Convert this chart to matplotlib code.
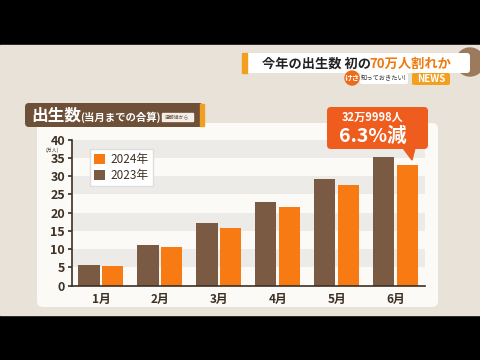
import numpy as np
import matplotlib.pyplot as plt
from matplotlib.patches import FancyBboxPatch, Polygon, Circle, Rectangle

plt.rcParams['font.family'] = ['Noto Sans CJK JP', 'DejaVu Sans']

months = ["1月", "2月", "3月", "4月", "5月", "6月"]
births_2023 = [5.7, 11.2, 17.1, 22.9, 29.2, 35.2]
births_2024 = [5.4, 10.5, 15.9, 21.5, 27.5, 33.0]
yticks = [0, 5, 10, 15, 20, 25, 30, 35, 40]

c2023 = "#7a5a42"
c2024 = "#f77a12"
txt_dark = "#3d3024"

fig = plt.figure(figsize=(4.8, 3.6), dpi=100)
fig.patch.set_facecolor("black")


def pixel_axes(z):
    a = fig.add_axes([0, 0, 1, 1])
    a.set_xlim(0, 480)
    a.set_ylim(360, 0)
    a.axis("off")
    a.set_zorder(z)
    a.patch.set_alpha(0)
    return a


# --- background / decorations in pixel coordinates ---
bg = pixel_axes(0)
bg.add_patch(Rectangle((0, 45), 480, 270, color="#e8e2d9", zorder=0))
bg.add_patch(Circle((470, 62), 14, color="#9c7a5c", zorder=1))

# white panel
bg.add_patch(FancyBboxPatch((37, 123), 401, 184, boxstyle="round,pad=0,rounding_size=6",
                            fc="#fbfaf7", ec="none", zorder=1))

# title badge
bg.add_patch(FancyBboxPatch((25, 103), 178, 24, boxstyle="round,pad=0,rounding_size=4",
                            fc="#6e4f38", ec="none", zorder=2))
bg.add_patch(Rectangle((200, 104), 4, 22, color="#f0a020", zorder=2))
bg.text(31, 116, "出生数", color="white", fontsize=12, fontweight="bold", va="center", zorder=3)
bg.text(80, 117, "(当月までの合算)", color="white", fontsize=7.5, fontweight="bold", va="center", zorder=3)
bg.add_patch(Rectangle((162, 113), 31, 8, color="#f3efe8", zorder=3))
bg.text(177.5, 117, "速報値から", color="#6e4f38", fontsize=3.5, ha="center", va="center", zorder=4)

# headline
bg.add_patch(FancyBboxPatch((242, 53), 228, 20, boxstyle="round,pad=0,rounding_size=3",
                            fc="white", ec="none", zorder=2))
bg.add_patch(Rectangle((242, 53), 5, 20, color="#f0a020", zorder=3))
bg.text(262, 63.5, "今年の出生数 初の", color="#222222", fontsize=9.5, fontweight="bold",
        va="center", zorder=3)
bg.text(369, 63.5, "70万人割れか", color="#ee7a10", fontsize=9.5, fontweight="bold",
        va="center", zorder=3)
bg.add_patch(Circle((352, 78), 7, color="#ee6a18", zorder=3))
bg.text(352, 78, "けさ", color="white", fontsize=5.5, fontweight="bold", ha="center", va="center", zorder=4)
bg.add_patch(FancyBboxPatch((360, 73), 48, 11, boxstyle="round,pad=0,rounding_size=2",
                            fc="white", ec="none", zorder=2))
bg.text(384, 78.5, "知っておきたい!", color="#333333", fontsize=4.5, ha="center", va="center", zorder=3)
bg.add_patch(FancyBboxPatch((412, 73), 38, 12, boxstyle="round,pad=0,rounding_size=2",
                            fc="#f3a020", ec="none", zorder=2))
bg.text(431, 79, "NEWS", color="white", fontsize=7, fontweight="bold", ha="center", va="center", zorder=3)

# --- main chart ---
ax = fig.add_axes([72 / 480, (360 - 285.7) / 360, 353 / 480, 146 / 360])
ax.set_zorder(2)
ax.patch.set_alpha(0)
x = np.arange(len(months))
w = 0.36
for lo in range(0, 40, 5):
    ax.axhspan(lo, lo + 5, color="#ecebe7" if (lo // 5) % 2 else "#fbfaf7", zorder=0, lw=0)
ax.bar(x - 0.2, births_2023, w, color=c2023, label="2023年", zorder=2)
ax.bar(x + 0.2, births_2024, w, color=c2024, label="2024年", zorder=2)

ax.set_xlim(-0.49, 5.5)
ax.set_ylim(0, 40)
ax.set_yticks(yticks)
ax.set_yticklabels([str(v) for v in yticks], fontsize=9, fontweight="bold", color=txt_dark)
ax.set_xticks(x)
ax.set_xticklabels(months, fontsize=8.5, fontweight="bold", color=txt_dark)
ax.tick_params(axis="y", length=3, width=1.2, color=txt_dark, pad=2)
ax.tick_params(axis="x", length=0, pad=5)
for s in ["top", "right"]:
    ax.spines[s].set_visible(False)
for s in ["left", "bottom"]:
    ax.spines[s].set_color(txt_dark)
    ax.spines[s].set_linewidth(1.2)
ax.text(-0.057, 0.927, "(万人)", transform=ax.transAxes, fontsize=3.5, color=txt_dark,
        ha="center", va="center")

h, l = ax.get_legend_handles_labels()
leg = ax.legend(h[::-1], l[::-1], loc="upper left", bbox_to_anchor=(0.035, 0.975),
                fontsize=8.5, frameon=True, fancybox=False, handlelength=0.9, handleheight=0.9,
                handletextpad=0.5, borderpad=0.35, labelspacing=0.25)
leg.get_frame().set_edgecolor("#dddddd")
leg.get_frame().set_facecolor("white")
leg.get_frame().set_alpha(1)
for t in leg.get_texts():
    t.set_color(txt_dark)

# --- callout on top ---
top = pixel_axes(5)
top.add_patch(FancyBboxPatch((327, 107), 101, 42, boxstyle="round,pad=0,rounding_size=4",
                             fc="#ee5d1e", ec="none", zorder=5))
top.add_patch(Polygon([(403, 148), (415, 148), (412, 160)], color="#ee5d1e", zorder=5))
top.text(373, 117, "32万9998人", color="white", fontsize=8, fontweight="bold",
         ha="center", va="center", zorder=6)
top.text(373, 136, "6.3%減", color="white", fontsize=14, fontweight="bold",
         ha="center", va="center", zorder=6)

fig.savefig("out.png", dpi=100, facecolor=fig.get_facecolor())
